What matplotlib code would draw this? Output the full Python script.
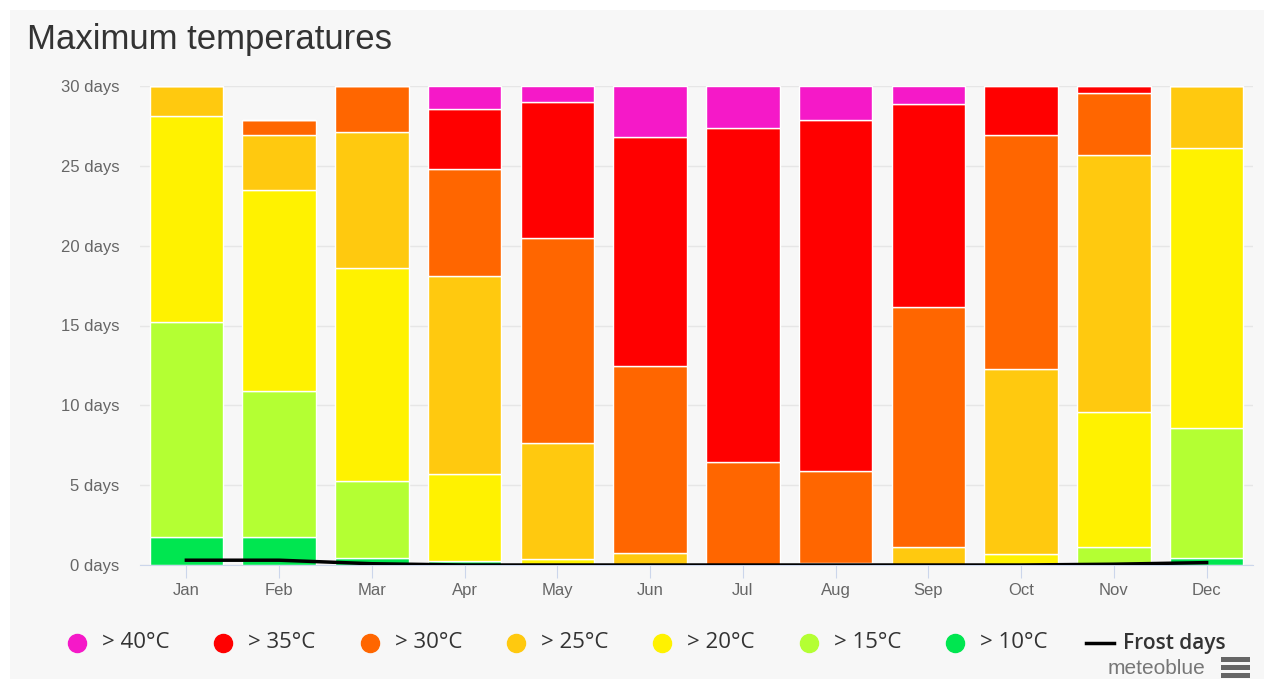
import numpy as np
import matplotlib.pyplot as plt
from matplotlib.lines import Line2D
from matplotlib.patches import Rectangle

months = ['Jan', 'Feb', 'Mar', 'Apr', 'May', 'Jun', 'Jul', 'Aug', 'Sep', 'Oct', 'Nov', 'Dec']

# days per month in each max-temperature class (stacked bottom -> top)
above_10 = [1.75, 1.75, 0.45, 0.25, 0, 0, 0, 0, 0, 0, 0, 0.45]
above_15 = [13.5, 9.15, 4.8, 0, 0, 0, 0, 0, 0, 0, 1.15, 8.15]
above_20 = [12.9, 12.6, 13.35, 5.45, 0.4, 0, 0, 0, 0, 0.7, 8.45, 17.5]
above_25 = [1.85, 3.4, 8.5, 12.4, 7.25, 0.75, 0, 0.15, 1.1, 11.6, 16.1, 3.9]
above_30 = [0, 1.0, 2.9, 6.7, 12.85, 11.7, 6.45, 5.75, 15.05, 14.6, 3.85, 0]
above_35 = [0, 0, 0, 3.75, 8.5, 14.35, 20.95, 22.0, 12.75, 3.1, 0.45, 0]
above_40 = [0, 0, 0, 1.45, 1.0, 3.2, 2.6, 2.1, 1.1, 0, 0, 0]
frost_days = [0.3, 0.3, 0.08, 0, 0, 0, 0, 0, 0, 0, 0.05, 0.15]

series = [
    ('> 10°C', above_10, '#00e650'),
    ('> 15°C', above_15, '#b4ff33'),
    ('> 20°C', above_20, '#fff200'),
    ('> 25°C', above_25, '#ffc90f'),
    ('> 30°C', above_30, '#ff6600'),
    ('> 35°C', above_35, '#ff0000'),
    ('> 40°C', above_40, '#f519c8'),
]

plt.rcParams['font.family'] = ['Liberation Sans', 'DejaVu Sans']

W, H = 1264, 679
fig = plt.figure(figsize=(W / 100, H / 100), dpi=100, facecolor='white')
# light grey panel behind everything
fig.patches.append(Rectangle((10 / W, 0), 1, 1 - 10 / H, transform=fig.transFigure,
                             facecolor='#f7f7f7', edgecolor='none', zorder=-10))

ax = fig.add_axes([140 / W, 1 - 565 / H, (1253 - 140) / W, (565 - 86) / H])
ax.set_facecolor('#f7f7f7')

x = np.arange(len(months))
bottom = np.zeros(len(months))
for label, vals, color in series:
    vals = np.array(vals)
    ax.bar(x, vals, bottom=bottom, width=0.79, color=color, edgecolor='white',
           linewidth=1, zorder=2)
    bottom += vals

ax.plot(x, frost_days, color='black', linewidth=2.5, zorder=3)

ax.set_xlim(-0.5, 11.5)
ax.set_ylim(0, 30)
ax.set_yticks([0, 5, 10, 15, 20, 25, 30])
ax.set_yticklabels([f'{v} days' for v in [0, 5, 10, 15, 20, 25, 30]])
ax.set_xticks(x)
ax.set_xticklabels(months)
ax.grid(axis='y', color='#e6e6e6', linewidth=1, zorder=0)
for s in ['top', 'right', 'left']:
    ax.spines[s].set_visible(False)
ax.spines['bottom'].set_color('#ccd6eb')
ax.tick_params(axis='y', length=0, labelsize=12, labelcolor='#666666', pad=15)
ax.tick_params(axis='x', length=9, color='#ccd6eb', labelsize=12, labelcolor='#666666', pad=4)

fig.text(27 / W, 1 - 39 / H, 'Maximum temperatures', fontsize=25, color='#333333',
         va='center', ha='left')

# legend, laid out by hand to match the original spacing
leg_y = 1 - 643 / H
leg_font = ['Open Sans', 'DejaVu Sans']
for i, (label, vals, color) in enumerate(reversed(series)):
    cx = 77 + 146.3 * i
    fig.add_artist(Line2D([cx / W], [leg_y], marker='o', markersize=13, linestyle='none',
                          markerfacecolor=color, markeredgecolor=color,
                          transform=fig.transFigure))
    fig.text((cx + 25) / W, leg_y, label, fontsize=16, color='#333333',
             va='center', ha='left', family=leg_font)
fig.add_artist(Line2D([1086 / W, 1114 / W], [leg_y, leg_y], color='black', linewidth=2.5,
                      transform=fig.transFigure))
fig.text(1123 / W, leg_y, 'Frost days', fontsize=15, color='#333333', fontweight='semibold',
         va='center', ha='left', family=leg_font)

fig.text(1205 / W, 1 - 668 / H, 'meteoblue', fontsize=15, color='#777777',
         ha='right', va='center')
for dy in (-8, 0, 8):
    fig.patches.append(Rectangle((1221 / W, 1 - (667 + dy + 2.5) / H), 29 / W, 5 / H,
                                 transform=fig.transFigure, facecolor='#666666',
                                 edgecolor='none'))

fig.savefig('out.png', dpi=100, facecolor=fig.get_facecolor())
